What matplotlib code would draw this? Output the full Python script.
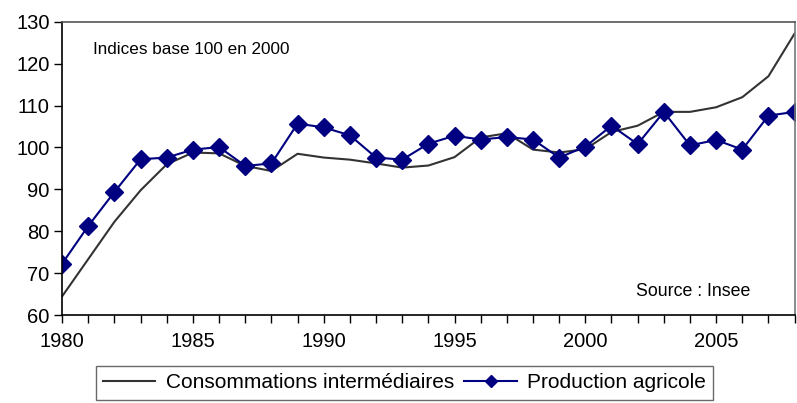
import matplotlib
matplotlib.use('Agg')
import matplotlib.pyplot as plt
import numpy as np

plt.rcParams['font.family'] = ['Liberation Sans', 'DejaVu Sans']

# Données (indices base 100 en 2000)
annees = np.arange(1980, 2009)
consommations = [64.5, 73.4, 82.3, 89.8, 96.0, 98.8, 98.6, 95.6, 94.4, 98.5,
                 97.6, 97.1, 96.2, 95.2, 95.7, 97.7, 102.4, 103.4, 99.5, 98.8,
                 99.6, 103.7, 105.2, 108.5, 108.5, 109.6, 112.0, 117.0, 127.2]
production = [72.3, 81.3, 89.4, 97.2, 97.6, 99.5, 100.1, 95.6, 96.2, 105.7,
              104.8, 102.9, 97.6, 97.1, 100.9, 102.8, 101.9, 102.5, 101.9, 97.6,
              100.2, 105.2, 100.8, 108.5, 100.5, 101.8, 99.5, 107.6, 108.5]

fig = plt.figure(figsize=(7.97, 4.03), dpi=100)
ax = fig.add_axes([0.078, 0.218, 0.919, 0.728])

ax.plot(annees, consommations, color="#333333", linewidth=1.5,
        label="Consommations intermédiaires")
ax.plot(annees, production, color="#000080", linewidth=1.5, marker="D",
        markersize=9.5, label="Production agricole")

ax.set_xlim(1980, 2008)
ax.set_ylim(60, 130)
ax.set_yticks(np.arange(60, 131, 10))
ax.set_xticks(annees)
ax.set_xticklabels([str(a) if a % 5 == 0 else "" for a in annees])
ax.tick_params(direction="out", length=6, width=1, labelsize=14.5)
ax.tick_params(axis="x", pad=6)
ax.tick_params(axis="y", pad=3)

for s in ax.spines.values():
    s.set_linewidth(1.2)
ax.spines["top"].set_color("#555555")
ax.spines["right"].set_color("#777777")

ax.text(93 / 797, 1 - 50 / 403, "Indices base 100 en 2000", transform=fig.transFigure,
        fontsize=12.3, va="center")
ax.text(636 / 797, 1 - 292 / 403, "Source : Insee", transform=fig.transFigure,
        fontsize=12.8, va="center")

leg = fig.legend(loc="upper left", bbox_to_anchor=(96 / 797, 1 - 366 / 403),
                 borderaxespad=0, ncol=2, fontsize=15, frameon=True,
                 fancybox=False, handlelength=2.5, borderpad=0.35,
                 columnspacing=0.5, handletextpad=0.5)
leg.get_frame().set_edgecolor("#444444")
leg.get_frame().set_linewidth(1)
leg.legend_handles[1].set_markersize(6)

plt.savefig("out.png", dpi=100)
plt.close()
